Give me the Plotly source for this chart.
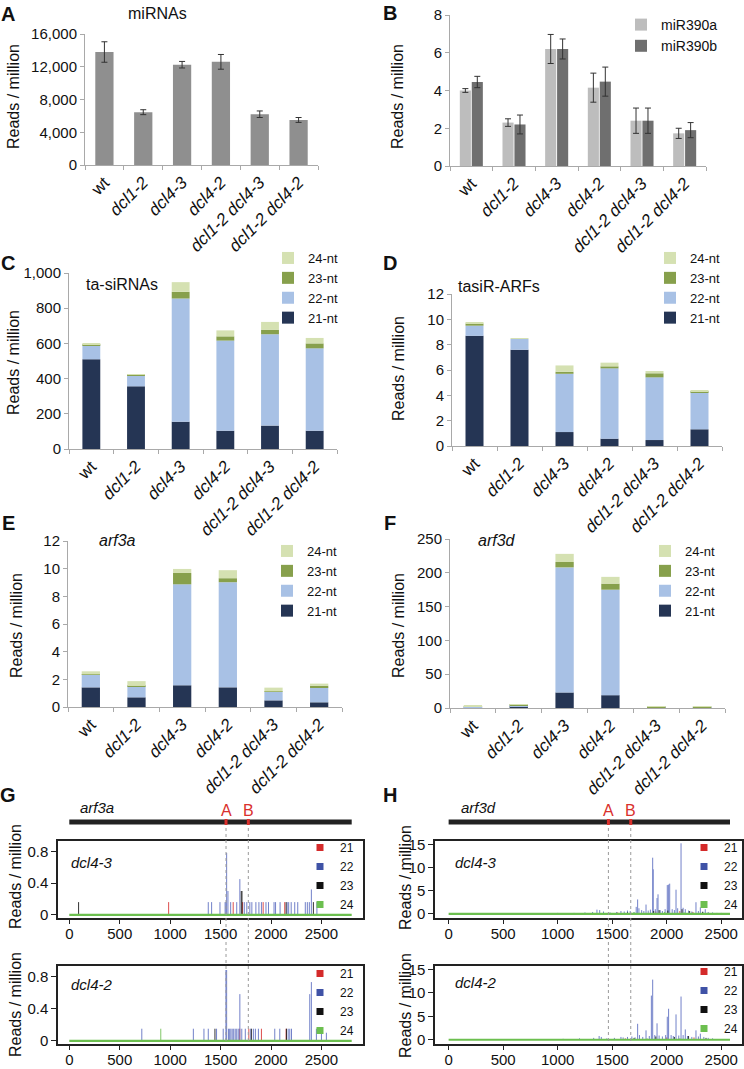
import plotly.graph_objects as go

W, H = 744, 1069
FONT = "Liberation Sans, Arial, Helvetica, sans-serif"

# ---------------- data ----------------
categories = ["wt", "dcl1-2", "dcl4-3", "dcl4-2", "dcl1-2 dcl4-3", "dcl1-2 dcl4-2"]
tick_text = [c if c == "wt" else f"<i>{c}</i>" for c in categories]
size_names = ["21-nt", "22-nt", "23-nt", "24-nt"]

# A: miRNAs
mirna_reads = [13800, 6450, 12250, 12600, 6200, 5500]
mirna_err = [1250, 300, 400, 900, 400, 300]

# B: miR390
mir390a = [4.0, 2.3, 6.2, 4.15, 2.4, 1.73]
mir390a_err = [0.1, 0.2, 0.77, 0.77, 0.67, 0.27]
mir390b = [4.45, 2.2, 6.2, 4.47, 2.4, 1.9]
mir390b_err = [0.3, 0.5, 0.53, 0.77, 0.67, 0.4]

# C: ta-siRNAs
tasi_21 = [510, 356, 155, 104, 133, 104]
tasi_22 = [80, 60, 700, 512, 519, 468]
tasi_23 = [6, 5, 38, 24, 26, 28]
tasi_24 = [4, 4, 55, 34, 44, 31]

# D: tasiR-ARFs
arf_21 = [8.7, 7.6, 1.1, 0.58, 0.47, 1.32]
arf_22 = [0.8, 0.85, 4.6, 5.55, 4.95, 2.92]
arf_23 = [0.16, 0.0, 0.16, 0.16, 0.32, 0.05]
arf_24 = [0.1, 0.02, 0.5, 0.29, 0.18, 0.1]

# E: arf3a
arf3a_21 = [1.42, 0.7, 1.57, 1.42, 0.48, 0.34]
arf3a_22 = [0.92, 0.8, 7.3, 7.6, 0.63, 1.06]
arf3a_23 = [0.02, 0.02, 0.82, 0.29, 0.02, 0.14]
arf3a_24 = [0.22, 0.35, 0.29, 0.58, 0.27, 0.15]

# F: arf3d
arf3d_21 = [0.3, 2.5, 23, 19, 0.3, 0.3]
arf3d_22 = [1.2, 1.0, 185, 156, 1.0, 1.0]
arf3d_23 = [0.3, 1.2, 8, 9, 0.3, 0.3]
arf3d_24 = [1.2, 0.6, 12, 10, 1.2, 1.2]

# G / H: positional read profiles
arf3a_len = 2800
arf3a_sites = [1554, 1775]
arf3d_len = 2580
arf3d_sites = [1465, 1670]
site_names = ["A", "B"]

g43_pos21 = [985, 1625, 1718, 1922, 2136]
g43_val21 = [0.16, 0.16, 0.16, 0.16, 0.16]
g43_pos22 = [1378, 1411, 1494, 1545, 1553, 1560, 1573, 1600, 1660, 1691,
             1735, 1760, 1790, 1810, 1850, 1880, 1905, 1950, 1975, 2030,
             2045, 2090, 2160, 2175, 2200, 2235, 2265, 2340, 2360, 2380,
             2400, 2455]
g43_val22 = [0.16, 0.16, 0.16, 0.16, 0.16, 0.78, 0.30, 0.16, 0.16, 0.45,
             0.16, 0.16, 0.16, 0.16, 0.16, 0.16, 0.16, 0.16, 0.16, 0.16,
             0.16, 0.16, 0.16, 0.16, 0.16, 0.16, 0.16, 0.16, 0.16, 0.16,
             0.32, 0.16]
g43_pos23 = [92, 1705, 1712, 2150, 2420]
g43_val23 = [0.16, 0.30, 0.30, 0.16, 0.16]
g43_pos24 = []
g43_val24 = []

g42_pos21 = [1690, 1780, 1905, 2150]
g42_val21 = [0.15, 0.15, 0.15, 0.15]
g42_pos22 = [719, 1230, 1335, 1378, 1460, 1526, 1553, 1560, 1578, 1590,
             1602, 1615, 1630, 1645, 1660, 1675, 1691, 1710, 1745, 1800,
             1825, 1845, 1875, 2037, 2087, 2170, 2186, 2203, 2384, 2400,
             2450, 2500, 2549]
g42_val22 = [0.15, 0.15, 0.15, 0.15, 0.15, 0.15, 0.88, 0.88, 0.15, 0.15,
             0.15, 0.15, 0.15, 0.15, 0.15, 0.15, 0.58, 0.15, 0.15, 0.15,
             0.15, 0.15, 0.15, 0.15, 0.15, 0.15, 0.15, 0.15, 0.58, 0.73,
             0.15, 0.15, 0.10]
g42_pos23 = [1444, 1805, 2153]
g42_val23 = [0.15, 0.15, 0.15]
g42_pos24 = [907]
g42_val24 = [0.15]

h43_pos21 = [1550, 1900, 2120, 2240]
h43_val21 = [0.3, 0.5, 0.6, 0.4]
h43_pos22 = [1000, 1150, 1250, 1320, 1360, 1385, 1420, 1480, 1540, 1580,
             1610, 1640, 1665, 1700, 1720, 1733, 1745, 1770, 1790, 1810,
             1830, 1850, 1871, 1876, 1895, 1911, 1920, 1940, 1960, 1985,
             2005, 2015, 2027, 2050, 2070, 2085, 2100, 2131, 2150, 2170,
             2200, 2230, 2268, 2290, 2308, 2330, 2353, 2380, 2420, 2460,
             2500]
h43_val22 = [0.2, 0.2, 0.3, 0.4, 0.9, 0.8, 0.5, 0.3, 0.4, 0.6,
             0.5, 0.7, 0.6, 0.4, 1.5, 3.1, 1.2, 0.8, 0.6, 2.0,
             0.7, 0.9, 12.1, 9.6, 1.0, 3.4, 4.2, 0.8, 0.6, 1.0,
             6.2, 6.3, 6.5, 1.0, 0.8, 5.2, 1.2, 15.2, 1.3, 1.0,
             0.7, 0.5, 2.5, 0.6, 1.4, 0.5, 1.0, 0.4, 0.3, 0.2,
             0.2]
h43_pos23 = [1640, 1880, 1930, 2010, 2140, 2210, 2330]
h43_val23 = [0.3, 0.6, 0.8, 0.7, 1.0, 0.6, 0.4]
h43_pos24 = [1700, 1980, 2160]
h43_val24 = [0.3, 0.4, 0.3]

h42_pos21 = [1620, 2000, 2250]
h42_val21 = [0.3, 0.5, 0.5]
h42_pos22 = [1050, 1200, 1330, 1380, 1400, 1450, 1520, 1580, 1600, 1640,
             1680, 1710, 1733, 1750, 1780, 1810, 1840, 1859, 1871, 1890,
             1911, 1930, 1960, 1990, 2005, 2017, 2040, 2060, 2085, 2110,
             2131, 2150, 2170, 2190, 2230, 2268, 2290, 2308, 2340, 2380,
             2420]
h42_val22 = [0.2, 0.3, 0.4, 0.8, 0.6, 0.3, 0.4, 0.6, 0.5, 0.6,
             0.7, 0.5, 3.4, 1.0, 0.6, 2.0, 0.8, 9.4, 12.8, 1.0,
             3.5, 0.9, 0.7, 1.0, 4.9, 6.6, 1.0, 0.8, 5.4, 0.9,
             9.2, 1.0, 2.2, 0.8, 0.6, 2.0, 0.7, 1.3, 0.6, 0.4,
             0.3]
h42_pos23 = [1700, 1900, 2070, 2200, 2360]
h42_val23 = [0.4, 0.7, 0.6, 0.8, 0.4]
h42_pos24 = [1820, 2120]
h42_val24 = [0.3, 0.3]

# ---------------- styling ----------------
C21, C22, C23, C24 = "#253554", "#a8c1e5", "#87a04c", "#d5e1b2"
STACK_COLORS = [C21, C22, C23, C24]
SPIKE_COLORS = ["#d7302e", "#5a6cc0", "#111111", "#6cbf4f"]
LEGEND_SPIKE = ["#d42a2a", "#3f52a6", "#111111", "#6cbf4f"]
AXC = "#a9a9a9"
TXT = "#111111"


def fx(p):
    return p / W


def fy(p):
    return 1 - p / H


fig = go.Figure()
layout = {}


def ax_name(n, letter):
    return f"{letter}axis" if n == 1 else f"{letter}axis{n}"


def ref(n, letter):
    return letter if n == 1 else f"{letter}{n}"


def cat_axes(n, xpx, ypx, yrange, ytickvals, yfmt=None):
    layout[ax_name(n, "x")] = dict(
        domain=[fx(xpx[0]), fx(xpx[1])], anchor=ref(n, "y"), type="category",
        categoryorder="array", categoryarray=categories, range=[-0.5, 5.5],
        tickmode="array", tickvals=categories, ticktext=tick_text, tickangle=-45,
        showline=True, linecolor=AXC, linewidth=1, ticks="outside",
        tickson="boundaries", ticklen=4, tickcolor=AXC,
        tickfont=dict(size=17, color=TXT), showgrid=False, zeroline=False)
    ya = dict(
        domain=[fy(ypx[0]), fy(ypx[1])], anchor=ref(n, "x"), range=yrange,
        tickmode="array", tickvals=ytickvals, showline=True, linecolor=AXC,
        linewidth=1, ticks="outside", ticklen=4, tickcolor=AXC,
        tickfont=dict(size=15, color=TXT), showgrid=False, zeroline=False)
    if yfmt:
        ya["tickformat"] = yfmt
    layout[ax_name(n, "y")] = ya


def box_axes(n, xpx, ypx, xrange, yrange, ytickvals):
    layout[ax_name(n, "x")] = dict(
        domain=[fx(xpx[0]), fx(xpx[1])], anchor=ref(n, "y"), range=xrange,
        tickmode="array", tickvals=[0, 500, 1000, 1500, 2000, 2500],
        showline=True, mirror=True, linecolor="#222", linewidth=1.5,
        ticks="outside", ticklen=4, tickcolor="#222", ticklabelstandoff=-3,
        tickfont=dict(size=15, color=TXT), showgrid=False, zeroline=False)
    layout[ax_name(n, "y")] = dict(
        domain=[fy(ypx[0]), fy(ypx[1])], anchor=ref(n, "x"), range=yrange,
        tickmode="array", tickvals=ytickvals,
        showline=True, mirror=True, linecolor="#222", linewidth=1.5,
        ticks="outside", ticklen=5, tickcolor="#222",
        tickfont=dict(size=15, color=TXT), showgrid=False, zeroline=False)


# A
cat_axes(1, (85, 318), (165, 34), [0, 16000], [0, 4000, 8000, 12000, 16000], ",")
fig.add_trace(go.Bar(x=categories, y=mirna_reads, width=0.47, offset=-0.235,
                     marker=dict(color="#8f8f8f", line=dict(width=0)),
                     error_y=dict(type="data", array=mirna_err, color="#333", thickness=1, width=3),
                     showlegend=False, xaxis="x", yaxis="y"))

# B
cat_axes(2, (450, 706), (166, 15), [0, 8], [0, 2, 4, 6, 8])
fig.add_trace(go.Bar(x=categories, y=mir390a, width=0.26, offset=-0.27, name="miR390a",
                     marker=dict(color="#bdbdbd", line=dict(width=0)),
                     error_y=dict(type="data", array=mir390a_err, color="#333", thickness=1, width=3),
                     legend="legend", xaxis="x2", yaxis="y2"))
fig.add_trace(go.Bar(x=categories, y=mir390b, width=0.26, offset=0.01, name="miR390b",
                     marker=dict(color="#6f6f6f", line=dict(width=0)),
                     error_y=dict(type="data", array=mir390b_err, color="#333", thickness=1, width=3),
                     legend="legend", xaxis="x2", yaxis="y2"))


def stacked(n, series, legend_name):
    base = [0] * len(categories)
    for name, vals, col in zip(size_names, series, STACK_COLORS):
        fig.add_trace(go.Bar(x=categories, y=vals, base=list(base), width=0.40, offset=-0.20,
                             name=name, marker=dict(color=col, line=dict(width=0)),
                             legend=legend_name, xaxis=ref(n, "x"), yaxis=ref(n, "y")))
        base = [b + v for b, v in zip(base, vals)]


cat_axes(3, (69, 337), (449, 273), [0, 1000], [0, 200, 400, 600, 800, 1000], ",")
stacked(3, [tasi_21, tasi_22, tasi_23, tasi_24], "legend2")
cat_axes(4, (452, 722), (446, 294), [0, 12], [0, 2, 4, 6, 8, 10, 12])
stacked(4, [arf_21, arf_22, arf_23, arf_24], "legend3")
cat_axes(5, (68, 342), (707, 541), [0, 12], [0, 2, 4, 6, 8, 10, 12])
stacked(5, [arf3a_21, arf3a_22, arf3a_23, arf3a_24], "legend4")
cat_axes(6, (450, 725), (708, 539), [0, 250], [0, 50, 100, 150, 200, 250])
stacked(6, [arf3d_21, arf3d_22, arf3d_23, arf3d_24], "legend5")

# G / H profiles
G_XR = [-112, 2912]
H_XR = [-125, 2690]
box_axes(7, (58, 363), (918, 841), G_XR, [-0.04, 0.93], [0, 0.4, 0.8])
box_axes(8, (58, 363), (1044, 966), G_XR, [-0.04, 0.93], [0, 0.4, 0.8])
box_axes(9, (435, 742), (918, 841), H_XR, [-0.9, 15.7], [0, 5, 10, 15])
box_axes(10, (435, 742), (1044, 966), H_XR, [-0.9, 15.7], [0, 5, 10, 15])


def spikes(pos, val):
    xs, ys = [], []
    for p, v in zip(pos, val):
        xs += [p, p, None]
        ys += [0, v, None]
    return xs, ys


def profile(n, gene_len, series, legend_name):
    xa, ya = ref(n, "x"), ref(n, "y")
    for (pos, val), col in zip(series, SPIKE_COLORS):
        xs, ys = spikes(pos, val)
        fig.add_trace(go.Scatter(x=xs, y=ys, mode="lines", line=dict(color=col, width=1),
                                 opacity=0.85, showlegend=False, hoverinfo="skip",
                                 xaxis=xa, yaxis=ya))
    fig.add_trace(go.Scatter(x=[0, gene_len], y=[0, 0], mode="lines",
                             line=dict(color=SPIKE_COLORS[3], width=2.2),
                             showlegend=False, hoverinfo="skip", xaxis=xa, yaxis=ya))
    for nm, col in zip(["21", "22", "23", "24"], LEGEND_SPIKE):
        fig.add_trace(go.Scatter(x=[None], y=[None], mode="markers", name=nm,
                                 marker=dict(symbol="square", size=7, color=col),
                                 legend=legend_name, xaxis=xa, yaxis=ya))


profile(7, arf3a_len, [(g43_pos21, g43_val21), (g43_pos22, g43_val22),
                       (g43_pos23, g43_val23), (g43_pos24, g43_val24)], "legend6")
profile(8, arf3a_len, [(g42_pos21, g42_val21), (g42_pos22, g42_val22),
                       (g42_pos23, g42_val23), (g42_pos24, g42_val24)], "legend7")
profile(9, arf3d_len, [(h43_pos21, h43_val21), (h43_pos22, h43_val22),
                       (h43_pos23, h43_val23), (h43_pos24, h43_val24)], "legend8")
profile(10, arf3d_len, [(h42_pos21, h42_val21), (h42_pos22, h42_val22),
                        (h42_pos23, h42_val23), (h42_pos24, h42_val24)], "legend9")

# legends
def legend(xpx, ypx, order="normal", size=13):
    return dict(x=fx(xpx), y=fy(ypx), xanchor="left", yanchor="top",
                bgcolor="rgba(0,0,0,0)", borderwidth=0, itemwidth=30,
                traceorder=order, font=dict(size=size, color=TXT, family=FONT))


layout["legend"] = legend(621, 9, size=14)
layout["legend2"] = legend(268, 243, "reversed")
layout["legend3"] = legend(650, 243, "reversed")
layout["legend4"] = legend(267, 536, "reversed")
layout["legend5"] = legend(645, 536, "reversed")
layout["legend6"] = legend(300, 833, size=12)
layout["legend7"] = legend(300, 959, size=12)
layout["legend8"] = legend(684, 833, size=12)
layout["legend9"] = legend(684, 957, size=12)

# annotations
ann = []


def txt(xpx, ypx, text, size=15, angle=0, bold=False, color=TXT, xanchor="center"):
    ann.append(dict(x=fx(xpx), y=fy(ypx), xref="paper", yref="paper", text=f"<b>{text}</b>" if bold else text,
                    showarrow=False, textangle=angle, xanchor=xanchor, yanchor="middle",
                    font=dict(size=size, color=color, family=FONT)))


for letter, (lx, ly) in zip("ABCDEFGH", [(8, 14), (390, 13), (8, 263), (390, 263),
                                          (8, 523), (390, 523), (8, 795), (390, 795)]):
    txt(lx, ly, letter, size=20, bold=True)

txt(157, 14, "miRNAs", size=16)
txt(122, 285, "ta-siRNAs", size=16)
txt(499, 287, "tasiR-ARFs", size=16)
txt(117, 540, "<i>arf3a</i>", size=16)
txt(497, 540, "<i>arf3d</i>", size=16)

for yx, yy in [(14, 97), (398, 97), (14, 363), (398, 369), (16, 626), (398, 626),
               (15, 877), (15, 1005), (405, 877), (405, 1005)]:
    txt(yx, yy, "Reads / million", size=16, angle=-90)

txt(92, 862, "<i>dcl4-3</i>", size=15)
txt(92, 984, "<i>dcl4-2</i>", size=15)
txt(476, 862, "<i>dcl4-3</i>", size=15)
txt(476, 982, "<i>dcl4-2</i>", size=15)
txt(97, 807, "<i>arf3a</i>", size=15)
txt(478, 807, "<i>arf3d</i>", size=15)

shapes = []
for xn, gene_len, sites in [("x7", arf3a_len, arf3a_sites), ("x9", arf3d_len, arf3d_sites)]:
    shapes.append(dict(type="line", xref=xn, yref="paper", x0=0, x1=gene_len,
                       y0=fy(822), y1=fy(822), line=dict(color="#222", width=5)))
    for s, nm in zip(sites, site_names):
        shapes.append(dict(type="line", xref=xn, yref="paper", x0=s, x1=s,
                           y0=fy(822), y1=fy(1044), line=dict(color="#9a9a9a", width=1, dash="dot")))
        shapes.append(dict(type="line", xref=xn, yref="paper", x0=s, x1=s,
                           y0=fy(819), y1=fy(825), line=dict(color="#d9302c", width=3)))
        ann.append(dict(x=s, y=fy(810), xref=xn, yref="paper", text=nm, showarrow=False,
                        xanchor="center", yanchor="middle",
                        font=dict(size=16, color="#d9302c", family=FONT)))

fig.update_layout(**layout)
fig.update_layout(
    width=W, height=H, barmode="overlay", showlegend=True,
    margin=dict(l=0, r=0, t=0, b=0, autoexpand=False),
    plot_bgcolor="white", paper_bgcolor="white",
    font=dict(family=FONT, color=TXT),
    annotations=ann, shapes=shapes,
)

fig.write_html("out.html", config={"displayModeBar": False},
               post_script="document.body.style.margin='0px';document.body.style.overflow='hidden';")
